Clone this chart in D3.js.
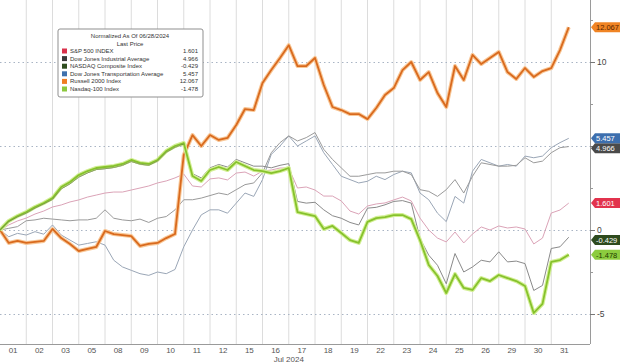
<!DOCTYPE html>
<html>
<head>
<meta charset="utf-8">
<script src="https://cdn.jsdelivr.net/npm/d3@7"></script>
<style>
  body { margin: 0; background: #fff; }
  text { font-family: "Liberation Sans", Arial, sans-serif; }
</style>
</head>
<body>
<div id="chart"></div>
<script>
// chart size
var width = 620,
    height = 363;

// DATA
var days = ["01","02","03","05","08","09","10","11","12","15","16","17","18","19","22","23","24","25","26","29","30","31"];
var stepsPerDay = 3;   // readings per trading day
var yMajor = [10, 5, 0, -5];
var yMinor = [12.5, 7.5, 2.5, -2.5];

var names = ["S&P 500 INDEX", "Dow Jones Industrial Average", "NASDAQ Composite Index",
             "Dow Jones Transportation Average", "Russell 2000 Index", "Nasdaq-100 Index"];
var lastPrice = [1.601, 4.966, -0.429, 5.457, 12.067, -1.478];

var spx = [0,.3,.54,.71,.95,1.13,1.37,1.49,1.67,1.79, 1.96,2.08,2.2,2.26,2.26,2.38,2.5,2.62,2.8,2.92,
           3.1,3.33,2.62,2.56,3.04,3.1,2.98,3.39,3.45,3.21, 3.51,3.57,3.69,3.69,2.5,2.56,2.38,2.02,2.02,1.73,
           1.13,.95,1.43,1.55,1.61,1.79,1.96,1.73,.71,0, -.48,-.71,-.12,-.77,-.24,.18,0,.24,.12,.18,
           .06,-.83,-.48,1.01,1.19,1.601];
var indu = [0,.1,.2,.55,.6,.7,.65,.6,.55,.6, .6,.7,1.2,.7,.6,.55,.65,.45,.7,.8,
            1.2,1.8,1.8,1.9,2.05,2.2,2.1,2.4,2.7,2.8, 3.4,4.6,5.2,5.6,5.3,5.5,5.8,4.8,4.2,3.7,
            3.2,3.2,3.3,3.4,3.4,3.5,3.5,3.3,2.4,2.3, 2.0,2.4,3.0,2.2,3.2,4.0,3.9,3.8,3.8,3.85,
            4.3,4.0,4.1,4.6,4.9,4.966];
var ccmp = [0,.5,.78,1.0,1.3,1.55,1.82,2.45,2.75,3.15, 3.4,3.6,3.65,3.72,3.85,4.08,3.92,3.85,4.1,4.62,
            4.92,5.12,3.35,3.1,3.7,3.9,3.75,4.2,4.0,3.8, 3.8,3.7,3.85,3.95,1.7,1.6,1.65,1.2,.85,.7,
            .45,.3,1.3,1.35,1.5,1.7,1.75,1.6,-.5,-1.5, -2.1,-3.2,-1.4,-2.5,-2.2,-1.8,-1.9,-1.3,-1.9,-1.85,
            -2.0,-3.6,-3.3,-1.1,-1.0,-.429];
var tran = [0,-.4,-.2,-.3,-.1,-.25,.3,-.3,-.6,-.9, -.8,-.7,-.9,-1.8,-2.2,-2.4,-2.6,-2.7,-2.5,-2.6,
            -2.35,-1.0,0,.9,1.2,1.2,1.0,1.6,2.2,2.0, 3.0,4.5,5.0,5.6,5.0,5.3,5.6,4.6,3.9,3.2,
            3.0,2.8,2.9,3.2,3.0,3.3,3.5,3.4,2.2,1.8, 1.0,.5,2.0,1.6,3.5,4.2,4.0,3.8,3.9,3.8,
            4.4,4.3,4.4,4.9,5.2,5.457];
var rty = [0,-.77,-.65,-.77,-.71,-.65,.06,-.48,-.83,-1.25, -1.13,-1.01,-.06,-.24,-.3,-.36,-.95,-.83,-.77,-.48,
           -.24,4.46,5.65,5.0,5.65,5.36,5.48,6.25,7.2,7.14, 8.75,9.52,10.24,11.0,9.76,9.76,10.24,8.63,7.32,7.14,
           6.9,6.9,6.6,7.26,8.04,8.45,9.52,10.0,8.93,9.4, 8.15,7.32,9.76,8.93,10.42,9.88,10.24,10.6,9.4,8.99,
           9.64,9.11,9.46,9.64,10.71,12.067];
var ndx = [0,.54,.83,1.07,1.37,1.61,1.9,2.56,2.86,3.27, 3.51,3.69,3.75,3.81,3.93,4.17,3.99,3.93,4.17,4.7,
           5.0,5.18,3.21,2.92,3.57,3.75,3.57,4.05,3.81,3.57, 3.51,3.39,3.51,3.69,1.07,.95,.83,.06,.24,-.18,
           -.6,-.77,.48,.71,.77,.89,.89,.65,-.6,-2.08, -2.74,-3.75,-2.62,-3.45,-3.57,-2.86,-3.04,-2.68,-2.86,-3.04,
           -3.33,-4.94,-4.4,-1.9,-1.79,-1.478];

// legend colours, in names order
var keyColors = ["#d9314b", "#3a3a3a", "#2f4d1f", "#3f71ad", "#ef7d22", "#8cc83c"];

// SCALES
var plotRight = 590, plotBottom = 344;

var x = d3.scaleLinear()
    .domain([0, days.length])
    .range([0, 577.5]);

var y = d3.scaleLinear()
    .domain([-5, 10])
    .range([314, 62]);

var svg = d3.select("#chart").append("svg")
    .attr("width", width)
    .attr("height", height)
    .attr("viewBox", "0 0 " + width + " " + height);

svg.append("rect")
    .attr("width", width)
    .attr("height", height)
    .attr("fill", "#fff");

// GRID
svg.append("g")
    .selectAll("line")
    .data(d3.range(1, days.length))
    .enter().append("line")
    .attr("x1", function(d) { return x(d); })
    .attr("x2", function(d) { return x(d); })
    .attr("y1", 0)
    .attr("y2", plotBottom)
    .attr("stroke", "#dcdcdc")
    .attr("stroke-width", 1);

svg.append("g")
    .selectAll("line")
    .data(yMajor)
    .enter().append("line")
    .attr("x1", 0)
    .attr("x2", plotRight)
    .attr("y1", function(d) { return Math.round(y(d)) + 0.5; })
    .attr("y2", function(d) { return Math.round(y(d)) + 0.5; })
    .attr("stroke", "#a9b4c4")
    .attr("stroke-width", 1)
    .attr("stroke-dasharray", "1.5,3");

// frame: bottom axis + right axis
svg.append("line")
    .attr("x1", 0).attr("x2", plotRight)
    .attr("y1", plotBottom + 0.5).attr("y2", plotBottom + 0.5)
    .attr("stroke", "#9a9a9a");
svg.append("line")
    .attr("x1", plotRight + 0.5).attr("x2", plotRight + 0.5)
    .attr("y1", 0).attr("y2", plotBottom)
    .attr("stroke", "#9a9a9a");

// X AXIS labels
svg.append("g")
    .selectAll("text")
    .data(days)
    .enter().append("text")
    .attr("x", function(d, i) { return x(i + 0.5); })
    .attr("y", 353)
    .attr("text-anchor", "middle")
    .attr("font-size", 8)
    .attr("fill", "#555")
    .text(function(d) { return d; });

svg.append("text")
    .attr("x", x(11))
    .attr("y", 362)
    .attr("text-anchor", "middle")
    .attr("font-size", 8)
    .attr("fill", "#555")
    .text("Jul 2024");

// TAG POSITIONS (last value boxes on the right axis)
// labels of the axis that sit under the tags are hidden, like the terminal does
var tagY = lastPrice.map(function(d) { return y(d); });
var shownMajor = yMajor.filter(function(v) {
    var hits = tagY.filter(function(t) { return Math.abs(t - y(v)) < 6; });
    return hits.length == 0;
});
// keep tags clear of the visible axis labels and of each other
var order = d3.range(tagY.length).sort(function(a, b) { return tagY[a] - tagY[b]; });
order.forEach(function(k) {
    shownMajor.forEach(function(v) {
        var ly = y(v);
        if (tagY[k] > ly && tagY[k] - ly < 10) tagY[k] = ly + 10;
    });
});
for (var j = 1; j < order.length; j++) {
    var prev = tagY[order[j - 1]];
    if (tagY[order[j]] - prev < 10) tagY[order[j]] = prev + 10;
}

// Y AXIS (right)
svg.append("g")
    .selectAll("line")
    .data(yMinor)
    .enter().append("line")
    .attr("x1", plotRight).attr("x2", plotRight + 3)
    .attr("y1", function(d) { return Math.round(y(d)) + 0.5; })
    .attr("y2", function(d) { return Math.round(y(d)) + 0.5; })
    .attr("stroke", "#999");

var yAxis = svg.append("g").attr("class", "yaxis");
yAxis.selectAll("line")
    .data(yMajor)
    .enter().append("line")
    .attr("x1", plotRight).attr("x2", plotRight + 5)
    .attr("y1", function(d) { return Math.round(y(d)) + 0.5; })
    .attr("y2", function(d) { return Math.round(y(d)) + 0.5; })
    .attr("stroke", "#777");
yAxis.selectAll("text")
    .data(shownMajor)
    .enter().append("text")
    .attr("x", plotRight + 7)
    .attr("y", function(d) { return y(d) + 3; })
    .attr("font-size", 8.5)
    .attr("fill", "#444")
    .text(function(d) { return d; });

// LINES
var line = d3.line()
    .x(function(d, i) { return x(i / stepsPerDay); })
    .y(function(d) { return y(d); });

var thin = [
    { values: tran, color: "#9aa6b6" },
    { values: indu, color: "#9a9a9a" },
    { values: ccmp, color: "#8a8a8a" },
    { values: spx,  color: "#dba3b7" }
];

svg.append("g")
    .selectAll("path")
    .data(thin)
    .enter().append("path")
    .attr("d", function(d) { return line(d.values); })
    .attr("fill", "none")
    .attr("stroke", function(d) { return d.color; })
    .attr("stroke-width", 1)
    .attr("stroke-linejoin", "round");

// highlighted series: glow + core
var thick = [
    { values: rty, glow: "#f8c797", core: "#d96a1e" },
    { values: ndx, glow: "#d3ef95", core: "#86c22c" }
];

thick.forEach(function(s) {
    svg.append("path")
        .attr("d", line(s.values))
        .attr("fill", "none")
        .attr("stroke", s.glow)
        .attr("stroke-width", 4)
        .attr("stroke-linejoin", "round");
    svg.append("path")
        .attr("d", line(s.values))
        .attr("fill", "none")
        .attr("stroke", s.core)
        .attr("stroke-width", 1.8)
        .attr("stroke-linejoin", "round");
});

// composite sits on top of the lime line in the early part
svg.append("path")
    .attr("d", line(ccmp.slice(0, 22)))
    .attr("fill", "none")
    .attr("stroke", "#6b8448")
    .attr("stroke-width", 0.7);

// LAST VALUE TAGS
var tagText = ["#fff", "#fff", "#fff", "#fff", "#5a2400", "#1f3a00"];
var tagFill = ["#e2334d", "#4a4a4a", "#2e4b1e", "#3d6fae", "#f08424", "#8ccc3e"];

var tags = svg.append("g")
    .selectAll("g")
    .data(lastPrice)
    .enter().append("g")
    .attr("transform", function(d, i) { return "translate(" + (plotRight + 1) + "," + tagY[i] + ")"; });

tags.append("path")
    .attr("d", "M0,0 L4,-5 L30,-5 L30,5 L4,5 Z")
    .attr("fill", function(d, i) { return tagFill[i]; });

tags.append("text")
    .attr("x", 5)
    .attr("y", 2.7)
    .attr("font-size", 7.5)
    .attr("fill", function(d, i) { return tagText[i]; })
    .text(function(d) { return d.toFixed(3); });

// LEGEND
var legend = svg.append("g")
    .attr("transform", "translate(58,29)");

legend.append("rect")
    .attr("width", 145)
    .attr("height", 68)
    .attr("rx", 2)
    .attr("fill", "#fff")
    .attr("stroke", "#8f8f8f")
    .attr("stroke-width", 1);

legend.append("text")
    .attr("x", 72).attr("y", 9)
    .attr("text-anchor", "middle")
    .attr("font-size", 6)
    .attr("fill", "#333")
    .text("Normalized As Of 06/28/2024");

legend.append("text")
    .attr("x", 72).attr("y", 17)
    .attr("text-anchor", "middle")
    .attr("font-size", 6)
    .attr("fill", "#333")
    .text("Last Price");

var rows = legend.selectAll("g.row")
    .data(names)
    .enter().append("g")
    .attr("class", "row")
    .attr("transform", function(d, i) { return "translate(0," + (24 + i * 7.6) + ")"; });

rows.append("rect")
    .attr("x", 4).attr("y", -4.5)
    .attr("width", 5).attr("height", 5)
    .attr("fill", function(d, i) { return keyColors[i]; });

rows.append("text")
    .attr("x", 12).attr("y", 0)
    .attr("font-size", 6)
    .attr("fill", "#333")
    .text(function(d) { return d; });

rows.append("text")
    .attr("x", 140).attr("y", 0)
    .attr("text-anchor", "end")
    .attr("font-size", 6)
    .attr("fill", "#333")
    .text(function(d, i) { return lastPrice[i].toFixed(3); });
</script>
</body>
</html>
